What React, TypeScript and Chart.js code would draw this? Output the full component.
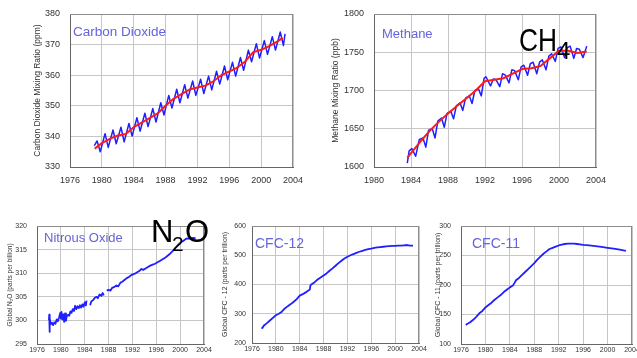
import React, { useEffect, useRef } from "react";
import { Chart, registerables } from "chart.js";

Chart.register(...registerables);

const FONT = 'Arial, "Liberation Sans", Helvetica, sans-serif';
const BLUE = "#1f1fff";
const RED = "#ff1a1a";
const GRID = "#c6c6c6";
const AXIS = "#666666";
const TICK = "#333333";
const LABEL = "#6464dc";

// ---------- Carbon dioxide (ppm) ----------
const co2TrendYears = [1979.1, 1980, 1981, 1982, 1983, 1984, 1985, 1986, 1987, 1988, 1989, 1990, 1991, 1992, 1993, 1994, 1995, 1996, 1997, 1998, 1999, 2000, 2001, 2002, 2002.7];
const co2TrendValues = [336.0, 337.8, 339.2, 340.3, 340.8, 343.0, 344.5, 346.0, 347.5, 350.0, 352.3, 353.8, 355.3, 356.0, 356.6, 358.0, 360.0, 361.2, 362.5, 364.5, 367.5, 368.3, 369.5, 371.0, 372.2];
const co2MonthlyYears = [1979.05, 1979.4, 1979.8, 1980.4, 1980.8, 1981.4, 1981.8, 1982.4, 1982.8, 1983.4, 1983.8, 1984.4, 1984.8, 1985.4, 1985.8, 1986.4, 1986.8, 1987.4, 1987.8, 1988.4, 1988.8, 1989.4, 1989.8, 1990.4, 1990.8, 1991.4, 1991.8, 1992.4, 1992.8, 1993.4, 1993.8, 1994.4, 1994.8, 1995.4, 1995.8, 1996.4, 1996.8, 1997.4, 1997.8, 1998.4, 1998.8, 1999.4, 1999.8, 2000.4, 2000.8, 2001.4, 2001.8, 2002.4, 2002.8, 2003.0];
const co2MonthlyValues = [337.0, 338.5, 335.0, 340.9, 336.4, 342.1, 337.6, 343.0, 338.2, 344.2, 340.1, 346.1, 341.7, 347.6, 343.2, 349.1, 344.7, 351.0, 347.0, 353.4, 349.3, 355.4, 351.0, 356.9, 352.5, 358.1, 353.4, 358.7, 354.0, 359.7, 355.2, 361.3, 357.1, 363.0, 358.5, 364.2, 359.7, 365.8, 361.6, 368.2, 364.4, 370.3, 365.6, 371.3, 366.8, 372.6, 368.2, 374.1, 369.7, 373.5];

// ---------- Methane (ppb) ----------
const ch4TrendYears = [1983.6, 1984, 1985, 1986, 1987, 1988, 1989, 1990, 1991, 1992, 1993, 1994, 1995, 1996, 1997, 1998, 1999, 2000, 2001, 2002, 2003];
const ch4TrendValues = [1612, 1618, 1633, 1647, 1659, 1670, 1680, 1690, 1700, 1712, 1714, 1716, 1722, 1728, 1729, 1732, 1742, 1752, 1752, 1749, 1751];
const ch4MonthlyYears = [1983.6, 1983.8, 1984.1, 1984.5, 1984.9, 1985.3, 1985.6, 1985.9, 1986.3, 1986.6, 1986.9, 1987.3, 1987.6, 1987.9, 1988.3, 1988.6, 1988.9, 1989.3, 1989.6, 1989.9, 1990.3, 1990.6, 1990.9, 1991.3, 1991.6, 1991.9, 1992.1, 1992.6, 1992.9, 1993.2, 1993.6, 1993.9, 1994.2, 1994.6, 1994.9, 1995.2, 1995.6, 1995.9, 1996.2, 1996.6, 1996.9, 1997.2, 1997.6, 1997.9, 1998.2, 1998.6, 1998.9, 1999.2, 1999.6, 1999.9, 2000.2, 2000.6, 2000.9, 2001.2, 2001.6, 2001.9, 2002.2, 2002.6, 2003.0];
const ch4MonthlyValues = [1605, 1621, 1624, 1614, 1636, 1638, 1626, 1648, 1650, 1638, 1660, 1664, 1652, 1670, 1673, 1663, 1680, 1684, 1674, 1690, 1693, 1683, 1700, 1702, 1693, 1716, 1718, 1706, 1715, 1714, 1705, 1722, 1720, 1710, 1727, 1726, 1714, 1731, 1733, 1720, 1735, 1737, 1722, 1737, 1740, 1727, 1745, 1748, 1738, 1755, 1757, 1743, 1756, 1758, 1742, 1755, 1754, 1743, 1758];

// ---------- Nitrous oxide (ppb) ----------
const n2oYears = [1978.0, 1978.05, 1978.1, 1978.15, 1978.3, 1978.5, 1978.7, 1978.9, 1979.1, 1979.3, 1979.5, 1979.7, 1979.9, 1980.0, 1980.1, 1980.25, 1980.4, 1980.55, 1980.7, 1980.85, 1981.0, 1981.2, 1981.4, 1981.6, 1981.8, 1982.0, 1982.2, 1982.4, 1982.6, 1982.8, 1983.0, 1983.2, 1983.4, 1983.6, 1983.8, 1984.0, 1984.2, 1984.3, 1984.6, 1984.9, 1985.1, 1985.4, 1985.7, 1986.0, 1986.2, 1986.5, 1986.8, 1987.0, 1987.2, 1987.4, 1987.7, 1988.0, 1988.3, 1988.6, 1989.0, 1989.3, 1989.6, 1990.0, 1990.3, 1990.6, 1991.0, 1991.4, 1991.8, 1992.0, 1992.4, 1992.8, 1993.2, 1993.5, 1993.8, 1994.2, 1994.6, 1995.0, 1995.4, 1995.8, 1996.2, 1996.6, 1997.0, 1997.4, 1997.8, 1998.2, 1998.6, 1999.0, 1999.4, 1999.8, 2000.2, 2000.6, 2001.0, 2001.4, 2001.8, 2002.2, 2002.6];
const n2oValues = [300.0, 301.2, 297.6, 300.5, 299.2, 299.5, 299.0, 299.6, 299.3, 300.2, 299.8, 300.6, 301.6, 300.4, 301.8, 300.2, 301.3, 299.7, 301.5, 299.9, 300.9, 301.2, 301.0, 301.9, 301.6, 302.4, 302.0, 303.1, 302.4, 303.0, 302.6, 303.2, 302.7, 303.4, 302.9, 303.8, 303.2, 304.2, null, 303.2, 304.0, 304.3, 304.8, 305.0, 304.7, 305.5, 305.2, 305.8, 305.3, null, 306.3, 306.5, 306.3, 306.9, 307.1, 307.4, 307.2, 308.0, 308.2, 308.5, 308.9, 309.2, 309.6, 309.7, 309.9, 310.2, 310.5, 310.9, 310.7, 311.0, 311.3, 311.6, 311.8, 312.0, 312.3, 312.6, 312.9, 313.2, 313.6, 314.0, 314.5, 315.0, 315.6, 316.2, 316.6, 316.9, 317.3, 317.4, 317.3, 317.5, 317.4];

// ---------- CFC-12 (ppt) ----------
const cfc12Years = [1977.6, 1977.8, 1978.0, 1978.5, 1979.0, 1979.5, 1980.0, 1980.5, 1981.0, 1981.5, 1982.0, 1982.5, 1983.0, 1983.5, 1984.0, 1984.5, 1985.0, 1985.5, 1985.7, 1985.8, 1986.0, 1986.5, 1987.0, 1987.5, 1988.0, 1988.5, 1989.0, 1989.5, 1990.0, 1990.5, 1991.0, 1991.5, 1992.0, 1992.5, 1993.0, 1993.5, 1994.0, 1994.5, 1995.0, 1995.5, 1996.0, 1996.5, 1997.0, 1997.5, 1998.0, 1998.5, 1999.0, 1999.5, 2000.0, 2000.5, 2001.0, 2001.5, 2002.0, 2002.5, 2003.0];
const cfc12Values = [249, 253, 260, 268, 277, 286, 295, 300, 307, 318, 326, 333, 341, 350, 362, 367, 373, 380, 383, 397, 401, 408, 417, 424, 431, 438, 447, 455, 464, 473, 481, 489, 495, 500, 504, 508, 512, 515, 518, 521, 523, 525, 527, 528, 529, 530, 531, 532, 532, 533, 533, 534, 535, 533, 533];

// ---------- CFC-11 (ppt) ----------
const cfc11Years = [1976.8, 1977.0, 1977.5, 1978.0, 1978.5, 1979.0, 1979.5, 1980.0, 1980.5, 1981.0, 1981.5, 1982.0, 1982.5, 1983.0, 1983.5, 1984.0, 1984.5, 1984.8, 1985.0, 1985.5, 1986.0, 1986.5, 1987.0, 1987.5, 1988.0, 1988.5, 1989.0, 1989.5, 1990.0, 1990.5, 1991.0, 1991.5, 1992.0, 1992.5, 1993.0, 1993.5, 1994.0, 1994.5, 1995.0, 1995.5, 1996.0, 1997.0, 1998.0, 1999.0, 2000.0, 2001.0, 2002.0, 2003.0];
const cfc11Values = [132, 134, 137, 141, 146, 152, 156, 162, 166, 170, 175, 179, 183, 188, 192, 196, 199, 204, 208, 212, 217, 222, 227, 232, 237, 243, 248, 253, 257, 261, 263, 265, 267, 268.5, 269.5, 270, 270, 270, 269.5, 269, 268, 267, 266, 264.5, 263, 261.5, 260, 258];

const pts = (xs: number[], ys: (number | null)[]) => xs.map((x, i) => ({ x, y: ys[i] }));

type Spec = {
  left: number; top: number; width: number; height: number;
  padTop: number; padRight: number; yW: number; xH: number;
  xMin: number; xMax: number; yMin: number; yMax: number; yStep: number;
  yTitle: string; titleSize: number; titlePad: number;
  tickSize: number; yTickPad: number; xTickPad: number;
  datasets: any[];
};

const framePlugin = {
  id: "frame",
  beforeDatasetsDraw(chart: any) {
    const { ctx, chartArea: a } = chart;
    ctx.save();
    ctx.strokeStyle = "#8c8c8c";
    ctx.lineWidth = 1;
    ctx.beginPath();
    ctx.moveTo(Math.round(a.left), Math.round(a.top) + 0.5);
    ctx.lineTo(Math.round(a.right), Math.round(a.top) + 0.5);
    ctx.moveTo(Math.round(a.right) - 0.5, Math.round(a.top));
    ctx.lineTo(Math.round(a.right) - 0.5, Math.round(a.bottom));
    ctx.stroke();
    ctx.restore();
  },
};

function Panel({ spec }: { spec: Spec }) {
  const ref = useRef<HTMLCanvasElement | null>(null);
  useEffect(() => {
    if (!ref.current) return;
    const s = spec;
    const chart = new Chart(ref.current, {
      type: "line",
      data: { datasets: s.datasets },
      options: {
        animation: false,
        responsive: false,
        maintainAspectRatio: false,
        devicePixelRatio: 1,
        layout: { padding: { left: 0, top: s.padTop, right: s.padRight, bottom: 0 } },
        plugins: { legend: { display: false }, tooltip: { enabled: false } },
        elements: { point: { radius: 0 }, line: { tension: 0, borderJoinStyle: "round" } },
        scales: {
          x: {
            type: "linear",
            min: s.xMin,
            max: s.xMax,
            ticks: {
              stepSize: 4,
              autoSkip: false,
              maxRotation: 0,
              padding: s.xTickPad,
              color: TICK,
              font: { family: FONT, size: s.tickSize },
              callback: (v: any) => String(v),
            },
            grid: { color: GRID, drawTicks: false },
            border: { color: AXIS },
            afterFit: (sc: any) => {
              sc.height = s.xH;
              sc.paddingLeft = 0;
              sc.paddingRight = 0;
            },
          },
          y: {
            type: "linear",
            min: s.yMin,
            max: s.yMax,
            ticks: {
              stepSize: s.yStep,
              padding: s.yTickPad,
              color: TICK,
              font: { family: FONT, size: s.tickSize },
              callback: (v: any) => String(v),
            },
            grid: { color: GRID, drawTicks: false },
            border: { color: AXIS },
            title: {
              display: true,
              text: s.yTitle,
              color: TICK,
              font: { family: FONT, size: s.titleSize },
              padding: { top: s.titlePad, bottom: 0 },
            },
            afterFit: (sc: any) => {
              sc.width = s.yW;
              sc.paddingTop = 0;
              sc.paddingBottom = 0;
            },
          },
        },
      },
      plugins: [framePlugin],
    } as any);
    return () => chart.destroy();
  }, [spec]);
  return (
    <canvas
      ref={ref}
      width={spec.width}
      height={spec.height}
      style={{ position: "absolute", left: spec.left, top: spec.top, width: spec.width, height: spec.height }}
    />
  );
}

const blueLine = (data: any[], w: number) => ({ data, borderColor: BLUE, borderWidth: w, fill: false, spanGaps: false });
const redLine = (data: any[]) => ({ data, borderColor: RED, borderWidth: 2, fill: false });

const specs: Spec[] = [
  {
    left: 0, top: 0, width: 305, height: 195, padTop: 14, padRight: 12, yW: 70, xH: 28,
    xMin: 1976, xMax: 2004, yMin: 330, yMax: 380, yStep: 10,
    yTitle: "Carbon Dioxide Mixing Ratio (ppm)", titleSize: 8.5, titlePad: 33,
    tickSize: 9, yTickPad: 10, xTickPad: 8,
    datasets: [redLine(pts(co2TrendYears, co2TrendValues)), blueLine(pts(co2MonthlyYears, co2MonthlyValues), 1.5)],
  },
  {
    left: 305, top: 0, width: 303, height: 195, padTop: 14, padRight: 12, yW: 69, xH: 28,
    xMin: 1980, xMax: 2004, yMin: 1600, yMax: 1800, yStep: 50,
    yTitle: "Methane Mixing Ratio (ppb)", titleSize: 8.5, titlePad: 26,
    tickSize: 9, yTickPad: 10, xTickPad: 8,
    datasets: [redLine(pts(ch4TrendYears, ch4TrendValues)), blueLine(pts(ch4MonthlyYears, ch4MonthlyValues), 1.5)],
  },
  {
    left: 0, top: 200, width: 216, height: 158, padTop: 26, padRight: 12, yW: 37, xH: 14,
    xMin: 1976, xMax: 2004, yMin: 295, yMax: 320, yStep: 5,
    yTitle: "Global N\u2082O (parts per billion)", titleSize: 6.5, titlePad: 6,
    tickSize: 7, yTickPad: 10, xTickPad: 2,
    datasets: [blueLine(pts(n2oYears, n2oValues), 1.8)],
  },
  {
    left: 216, top: 200, width: 215, height: 158, padTop: 26, padRight: 12, yW: 36, xH: 15,
    xMin: 1976, xMax: 2004, yMin: 200, yMax: 600, yStep: 100,
    yTitle: "Global CFC - 12 (parts per trillion)", titleSize: 7, titlePad: 5,
    tickSize: 7, yTickPad: 6, xTickPad: 2,
    datasets: [blueLine(pts(cfc12Years, cfc12Values), 1.8)],
  },
  {
    left: 431, top: 200, width: 206, height: 158, padTop: 26, padRight: 5, yW: 30, xH: 14,
    xMin: 1976, xMax: 2004, yMin: 100, yMax: 300, yStep: 50,
    yTitle: "Global CFC - 11 (parts per trillion)", titleSize: 7, titlePad: 3,
    tickSize: 7, yTickPad: 10, xTickPad: 2,
    datasets: [blueLine(pts(cfc11Years, cfc11Values), 1.8)],
  },
];

function Txt({ text, left, top, size, color, extra }: { text: string; left: number; top: number; size: number; color: string; extra?: any }) {
  return (
    <div
      style={{
        position: "absolute", left, top, fontSize: size, lineHeight: `${size}px`,
        fontFamily: FONT, color, whiteSpace: "nowrap", zIndex: 2, ...(extra || {}),
      }}
    >
      {text}
    </div>
  );
}

export default function App() {
  return (
    <div style={{ position: "absolute", left: 0, top: 0, width: 637, height: 358, background: "#ffffff", overflow: "hidden" }}>
      {specs.map((s, i) => (
        <Panel key={i} spec={s} />
      ))}
      <Txt text="Carbon Dioxide" left={73} top={25} size={13.5} color={LABEL} />
      <Txt text="Methane" left={382} top={27} size={13} color={LABEL} />
      <Txt text="Nitrous Oxide" left={44} top={231} size={13} color={LABEL} />
      <Txt text="CFC-12" left={255} top={236} size={14} color={LABEL} />
      <Txt text="CFC-11" left={472} top={236} size={14} color={LABEL} />
      <Txt text="CH" left={519} top={25} size={31} color="#000" extra={{ transform: "scaleX(0.85)", transformOrigin: "left top" }} />
      <Txt text="4" left={557} top={39} size={24} color="#000" />
      <Txt text="N" left={151} top={216} size={31} color="#000" />
      <Txt text="2" left={172} top={233} size={21} color="#000" />
      <Txt text="O" left={185} top={216} size={31} color="#000" />
    </div>
  );
}
